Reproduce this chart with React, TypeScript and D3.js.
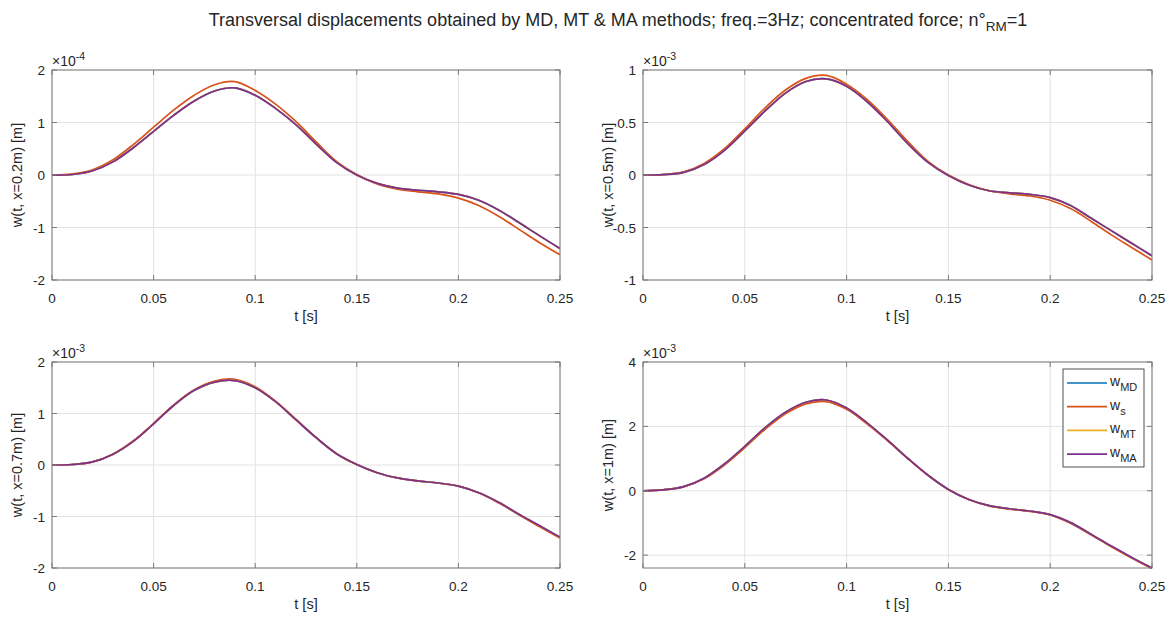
import React from 'react';
import * as d3 from 'd3';

// time samples [s]
const T = [0, 0.01, 0.02, 0.03, 0.04, 0.05, 0.06, 0.07, 0.08, 0.09, 0.1, 0.11, 0.12, 0.13, 0.14, 0.15, 0.16, 0.17, 0.18, 0.19, 0.2, 0.21, 0.22, 0.23, 0.24, 0.25];

// x = 0.2 m  (×1e-4)
const W02_S = [0, 0.02, 0.1, 0.29, 0.58, 0.91, 1.24, 1.52, 1.72, 1.78, 1.61, 1.35, 1.02, 0.63, 0.26, 0.01, -0.17, -0.27, -0.32, -0.36, -0.44, -0.58, -0.79, -1.04, -1.29, -1.52];
const W02_MA = [0, 0.01, 0.08, 0.25, 0.52, 0.83, 1.14, 1.41, 1.6, 1.66, 1.52, 1.27, 0.96, 0.59, 0.24, 0, -0.16, -0.25, -0.29, -0.32, -0.37, -0.48, -0.67, -0.91, -1.16, -1.4];
const W02_MD = [0, 0.01, 0.08, 0.25, 0.52, 0.83, 1.14, 1.41, 1.6, 1.66, 1.52, 1.27, 0.96, 0.59, 0.24, 0, -0.16, -0.25, -0.29, -0.32, -0.37, -0.48, -0.67, -0.91, -1.16, -1.4];
const W02_MT = [0, 0.01, 0.08, 0.25, 0.52, 0.83, 1.14, 1.41, 1.6, 1.66, 1.52, 1.27, 0.96, 0.59, 0.24, 0, -0.16, -0.25, -0.29, -0.32, -0.37, -0.48, -0.67, -0.91, -1.16, -1.4];

// x = 0.5 m  (×1e-3)
const W05_S = [0, 0.005, 0.03, 0.11, 0.25, 0.44, 0.64, 0.81, 0.92, 0.948, 0.865, 0.72, 0.53, 0.32, 0.13, 0, -0.09, -0.15, -0.18, -0.2, -0.24, -0.32, -0.44, -0.57, -0.69, -0.81];
const W05_MA = [0, 0.004, 0.025, 0.1, 0.235, 0.42, 0.61, 0.78, 0.89, 0.915, 0.845, 0.7, 0.51, 0.3, 0.12, -0.005, -0.095, -0.15, -0.17, -0.185, -0.215, -0.29, -0.41, -0.53, -0.65, -0.77];
const W05_MD = [0, 0.004, 0.025, 0.1, 0.235, 0.42, 0.61, 0.78, 0.89, 0.915, 0.845, 0.7, 0.51, 0.3, 0.12, -0.005, -0.095, -0.15, -0.17, -0.185, -0.215, -0.29, -0.41, -0.53, -0.65, -0.77];
const W05_MT = [0, 0.004, 0.025, 0.1, 0.235, 0.42, 0.61, 0.78, 0.89, 0.915, 0.845, 0.7, 0.51, 0.3, 0.12, -0.005, -0.095, -0.15, -0.17, -0.185, -0.215, -0.29, -0.41, -0.53, -0.65, -0.77];

// x = 0.7 m  (×1e-3)
const W07_S = [0, 0.01, 0.06, 0.21, 0.47, 0.81, 1.17, 1.46, 1.63, 1.665, 1.52, 1.24, 0.89, 0.53, 0.22, 0.01, -0.15, -0.25, -0.31, -0.35, -0.41, -0.54, -0.74, -0.97, -1.2, -1.42];
const W07_MA = [0, 0.01, 0.06, 0.21, 0.46, 0.8, 1.16, 1.45, 1.61, 1.64, 1.5, 1.23, 0.88, 0.53, 0.22, 0.01, -0.15, -0.25, -0.31, -0.35, -0.41, -0.54, -0.73, -0.96, -1.18, -1.4];
const W07_MD = [0, 0.01, 0.06, 0.21, 0.46, 0.8, 1.16, 1.45, 1.61, 1.64, 1.5, 1.23, 0.88, 0.53, 0.22, 0.01, -0.15, -0.25, -0.31, -0.35, -0.41, -0.54, -0.73, -0.96, -1.18, -1.4];
const W07_MT = [0, 0.01, 0.06, 0.21, 0.46, 0.8, 1.16, 1.45, 1.61, 1.64, 1.5, 1.23, 0.88, 0.53, 0.22, 0.01, -0.15, -0.25, -0.31, -0.35, -0.41, -0.54, -0.73, -0.96, -1.18, -1.4];

// x = 1 m  (×1e-3)
const W10_S = [0, 0.03, 0.12, 0.37, 0.8, 1.34, 1.91, 2.39, 2.7, 2.77, 2.53, 2.08, 1.56, 1.0, 0.48, 0.04, -0.27, -0.47, -0.57, -0.64, -0.75, -1.01, -1.37, -1.74, -2.09, -2.42];
const W10_MA = [0, 0.03, 0.13, 0.39, 0.83, 1.38, 1.96, 2.44, 2.75, 2.82, 2.57, 2.11, 1.58, 1.01, 0.48, 0.04, -0.27, -0.46, -0.56, -0.63, -0.74, -0.99, -1.35, -1.72, -2.07, -2.4];
const W10_MD = [0, 0.03, 0.13, 0.39, 0.83, 1.38, 1.96, 2.44, 2.75, 2.82, 2.57, 2.11, 1.58, 1.01, 0.48, 0.04, -0.27, -0.46, -0.56, -0.63, -0.74, -0.99, -1.35, -1.72, -2.07, -2.4];
const W10_MT = [0, 0.03, 0.13, 0.39, 0.83, 1.38, 1.96, 2.44, 2.75, 2.82, 2.57, 2.11, 1.58, 1.01, 0.48, 0.04, -0.27, -0.46, -0.56, -0.63, -0.74, -0.99, -1.35, -1.72, -2.07, -2.4];

const X_TICKS = [0, 0.05, 0.1, 0.15, 0.2, 0.25];
const X_TICK_LABELS = ['0', '0.05', '0.1', '0.15', '0.2', '0.25'];

const Y_TICKS_02 = [-2, -1, 0, 1, 2];
const Y_TICKS_05 = [-1, -0.5, 0, 0.5, 1];
const Y_TICKS_07 = [-2, -1, 0, 1, 2];
const Y_TICKS_10 = [-2, 0, 2, 4];

const SERIES_NAMES = ['MD', 's', 'MT', 'MA'];
const COLORS = ['#0072BD', '#D95319', '#EDB120', '#7E2F8E'];

const TITLE_MAIN = 'Transversal displacements obtained by MD, MT & MA methods; freq.=3Hz; concentrated force; n°';
const TITLE_SUB = 'RM';
const TITLE_END = '=1';

const FONT = '"Liberation Sans", Arial, Helvetica, sans-serif';
const TXT = '#262626';

const panels = [
  { rect: { x: 52, y: 70, w: 508, h: 210 }, ylabel: 'w(t, x=0.2m) [m]', yDomain: [-2, 2], yTicks: Y_TICKS_02, exp: '-4', series: [W02_MD, W02_S, W02_MT, W02_MA], legend: false },
  { rect: { x: 643, y: 70, w: 509, h: 210 }, ylabel: 'w(t, x=0.5m) [m]', yDomain: [-1, 1], yTicks: Y_TICKS_05, exp: '-3', series: [W05_MD, W05_S, W05_MT, W05_MA], legend: false },
  { rect: { x: 52, y: 362, w: 508, h: 206 }, ylabel: 'w(t, x=0.7m) [m]', yDomain: [-2, 2], yTicks: Y_TICKS_07, exp: '-3', series: [W07_MD, W07_S, W07_MT, W07_MA], legend: false },
  { rect: { x: 643, y: 362, w: 509, h: 206 }, ylabel: 'w(t, x=1m) [m]', yDomain: [-2.4, 4], yTicks: Y_TICKS_10, exp: '-3', series: [W10_MD, W10_S, W10_MT, W10_MA], legend: true },
];

function Panel({ p }: { p: any }) {
  const { x, y, w, h } = p.rect;
  const xs = d3.scaleLinear().domain([0, 0.25]).range([x, x + w]);
  const ys = d3.scaleLinear().domain(p.yDomain).range([y + h, y]);
  const line = d3
    .line<number>()
    .x((_, i) => xs(T[i]))
    .y((d) => ys(d))
    .curve(d3.curveCatmullRom.alpha(0.5));
  const tl = 5;
  const clipId = 'clip' + x + '_' + y;
  return (
    <g>
      <defs>
        <clipPath id={clipId}>
          <rect x={x} y={y - 1} width={w} height={h + 2} />
        </clipPath>
      </defs>
      <rect x={x} y={y} width={w} height={h} fill="#fff" />
      {X_TICKS.map((t, i) => (
        <line key={'gx' + i} x1={xs(t)} x2={xs(t)} y1={y} y2={y + h} stroke="#e3e3e3" strokeWidth={1} />
      ))}
      {p.yTicks.map((t: number, i: number) => (
        <line key={'gy' + i} x1={x} x2={x + w} y1={ys(t)} y2={ys(t)} stroke="#e3e3e3" strokeWidth={1} />
      ))}
      <g clipPath={`url(#${clipId})`}>
        {p.series.map((s: number[], i: number) => (
          <path key={'s' + i} d={line(s) || ''} fill="none" stroke={COLORS[i]} strokeWidth={1.7} strokeLinejoin="round" />
        ))}
      </g>
      <rect x={x} y={y} width={w} height={h} fill="none" stroke="#7a7a7a" strokeWidth={1} />
      {X_TICKS.map((t, i) => (
        <g key={'tx' + i}>
          <line x1={xs(t)} x2={xs(t)} y1={y + h} y2={y + h - tl} stroke="#7a7a7a" />
          <line x1={xs(t)} x2={xs(t)} y1={y} y2={y + tl} stroke="#7a7a7a" />
          <text x={xs(t)} y={y + h + 23} textAnchor="middle" fontSize={13.5} fill={TXT} fontFamily={FONT}>
            {X_TICK_LABELS[i]}
          </text>
        </g>
      ))}
      {p.yTicks.map((t: number, i: number) => (
        <g key={'ty' + i}>
          <line x1={x} x2={x + tl} y1={ys(t)} y2={ys(t)} stroke="#7a7a7a" />
          <line x1={x + w} x2={x + w - tl} y1={ys(t)} y2={ys(t)} stroke="#7a7a7a" />
          <text x={x - 7} y={ys(t) + 5} textAnchor="end" fontSize={13.5} fill={TXT} fontFamily={FONT}>
            {String(t)}
          </text>
        </g>
      ))}
      <text x={x} y={y - 4} fontSize={14} fill={TXT} fontFamily={FONT}>
        ×10
        <tspan dy={-6} fontSize={10.5}>
          {p.exp}
        </tspan>
      </text>
      <text x={x + w / 2} y={y + h + 41} textAnchor="middle" fontSize={14.5} fill={TXT} fontFamily={FONT}>
        t [s]
      </text>
      <text
        transform={`translate(${x - 30},${y + h / 2}) rotate(-90)`}
        textAnchor="middle"
        fontSize={14.5}
        fill={TXT}
        fontFamily={FONT}
      >
        {p.ylabel}
      </text>
      {p.legend && <Legend x={x + w - 89} y={y + 7} />}
    </g>
  );
}

function Legend({ x, y }: { x: number; y: number }) {
  const rowH = 23.7;
  return (
    <g>
      <rect x={x} y={y} width={81} height={98} fill="#fff" stroke="#262626" strokeWidth={0.8} />
      {SERIES_NAMES.map((n, i) => {
        const cy = y + 14 + i * rowH;
        return (
          <g key={n}>
            <line x1={x + 4} x2={x + 44} y1={cy} y2={cy} stroke={COLORS[i]} strokeWidth={1.7} />
            <text x={x + 47} y={cy + 3} fontSize={14} fill={TXT} fontFamily={FONT}>
              w
              <tspan dy={5} fontSize={11}>
                {n}
              </tspan>
            </text>
          </g>
        );
      })}
    </g>
  );
}

export default function App() {
  return (
    <svg width={1174} height={620} style={{ position: 'absolute', left: 0, top: 0, display: 'block', background: '#fff' }}>
      <rect x={0} y={0} width={1174} height={620} fill="#fff" />
      <text x={618} y={26} textAnchor="middle" fontSize={18} fill={TXT} fontFamily={FONT}>
        {TITLE_MAIN}
        <tspan dy={5} fontSize={13.5}>
          {TITLE_SUB}
        </tspan>
        <tspan dy={-5}>{TITLE_END}</tspan>
      </text>
      {panels.map((p, i) => (
        <Panel key={i} p={p} />
      ))}
    </svg>
  );
}
